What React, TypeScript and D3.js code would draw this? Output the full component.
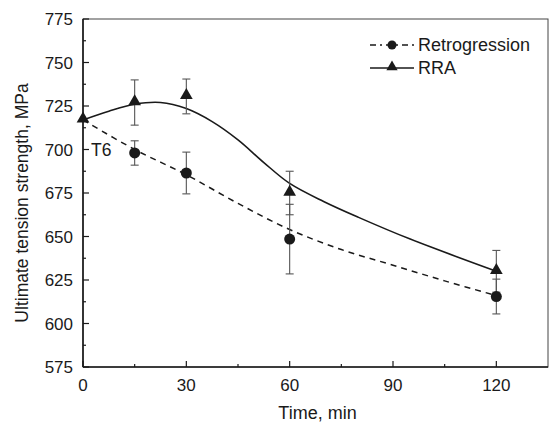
import React from 'react';
import * as d3 from 'd3';

// measured points (min, MPa)
const times = [0, 15, 30, 60, 120];
const retroValues = [717, 698, 686.5, 648.5, 615.5];
const retroErrors = [0, 7, 12, 20, 10];
const rraValues = [717, 727, 730.5, 675, 630];
const rraErrors = [0, 13, 10, 12.5, 12];

// fitted curves
const retroFitT = [0, 15, 30, 45, 60, 75, 90, 105, 120];
const retroFitV = [717, 700, 685.5, 669, 654, 642.5, 633.5, 624.5, 616];
const rraFitT = [0, 7.5, 15, 22.5, 30, 37.5, 45, 52.5, 60, 70, 80, 95, 120];
const rraFitV = [717, 722, 726, 727, 723.5, 716, 705.5, 692.5, 680.5, 670, 661, 648.5, 630];

const xTicks = [0, 30, 60, 90, 120];
const xMinor = [15, 45, 75, 105];
const yTicks = [575, 600, 625, 650, 675, 700, 725, 750, 775];
const yMinor = [587.5, 612.5, 637.5, 662.5, 687.5, 712.5, 737.5, 762.5];

const W = 554;
const H = 425;
const margin = { top: 19, right: 6, bottom: 58, left: 83 };
const font = 'Liberation Sans, Arial, sans-serif';
const ink = '#1a1a1a';

export default function App() {
  const x = d3.scaleLinear().domain([0, 135]).range([margin.left, W - margin.right]);
  const y = d3.scaleLinear().domain([575, 775]).range([H - margin.bottom, margin.top]);

  const line = d3.line<[number, number]>()
    .x(d => x(d[0]))
    .y(d => y(d[1]))
    .curve(d3.curveCatmullRom.alpha(0.5));

  const retroPath = line(retroFitT.map((t, i) => [t, retroFitV[i]]));
  const rraPath = line(rraFitT.map((t, i) => [t, rraFitV[i]]));

  const tri = d3.symbol().type(d3.symbolTriangle).size(70)();
  const x0 = margin.left, x1 = W - margin.right;
  const y0 = H - margin.bottom, y1 = margin.top;

  const errBar = (t: number, v: number, e: number, key: string) => {
    if (!e) return null;
    const cx = x(t);
    return (
      <g key={key} stroke="#555" strokeWidth={1.1}>
        <line x1={cx} x2={cx} y1={y(v + e)} y2={y(v - e)} />
        <line x1={cx - 4} x2={cx + 4} y1={y(v + e)} y2={y(v + e)} />
        <line x1={cx - 4} x2={cx + 4} y1={y(v - e)} y2={y(v - e)} />
      </g>
    );
  };

  return (
    <svg width={W} height={H} style={{ position: 'fixed', left: 0, top: 0, background: '#fff' }}
      fontFamily={font}>
      {/* frame */}
      <rect x={x0} y={y1} width={x1 - x0} height={y0 - y1} fill="none" stroke="#444" strokeWidth={1} />
      <line x1={x0} x2={x0} y1={y1} y2={y0} stroke={ink} strokeWidth={1.6} />
      <line x1={x0} x2={x1} y1={y0} y2={y0} stroke={ink} strokeWidth={1.6} />

      {/* ticks */}
      {xTicks.map(t => (
        <g key={'xt' + t}>
          <line x1={x(t)} x2={x(t)} y1={y0} y2={y0 - 6} stroke={ink} strokeWidth={1.2} />
          <text x={x(t)} y={y0 + 24} textAnchor="middle" fontSize={17} fill={ink}>{t}</text>
        </g>
      ))}
      {xMinor.map(t => (
        <line key={'xm' + t} x1={x(t)} x2={x(t)} y1={y0} y2={y0 - 3} stroke={ink} strokeWidth={1.2} />
      ))}
      {yTicks.map(v => (
        <g key={'yt' + v}>
          <line x1={x0} x2={x0 + 6} y1={y(v)} y2={y(v)} stroke={ink} strokeWidth={1.2} />
          <text x={x0 - 10} y={y(v) + 6} textAnchor="end" fontSize={17} fill={ink}>{v}</text>
        </g>
      ))}
      {yMinor.map(v => (
        <line key={'ym' + v} x1={x0} x2={x0 + 3} y1={y(v)} y2={y(v)} stroke={ink} strokeWidth={1.2} />
      ))}

      {/* axis titles */}
      <text x={(x0 + x1) / 2 + 2} y={H - 6} textAnchor="middle" fontSize={18} fill={ink}>Time, min</text>
      <text transform={`translate(28,${(y0 + y1) / 2 + 10}) rotate(-90)`} textAnchor="middle" fontSize={17.5} fill={ink}>
        Ultimate tension strength, MPa
      </text>

      {/* fitted lines */}
      <path d={retroPath ?? ''} fill="none" stroke={ink} strokeWidth={1.5} strokeDasharray="6,5" />
      <path d={rraPath ?? ''} fill="none" stroke={ink} strokeWidth={1.6} />

      {/* error bars */}
      {times.map((t, i) => errBar(t, retroValues[i], retroErrors[i], 'er' + i))}
      {times.map((t, i) => errBar(t, rraValues[i], rraErrors[i], 'ea' + i))}

      {/* markers */}
      {times.map((t, i) => t === 0 ? null : (
        <circle key={'c' + i} cx={x(t)} cy={y(retroValues[i])} r={5.5} fill={ink} />
      ))}
      {times.map((t, i) => (
        <path key={'t' + i} d={tri ?? ''} transform={`translate(${x(t)},${y(rraValues[i]) - 1})`} fill={ink} />
      ))}

      <text x={x0 + 8} y={y(700) + 6} fontSize={17.5} fill={ink}>T6</text>

      {/* legend */}
      <g>
        <line x1={370} x2={414} y1={45} y2={45} stroke={ink} strokeWidth={1.3} strokeDasharray="6,4,2,4" />
        <circle cx={392} cy={45} r={4.5} fill={ink} />
        <text x={418} y={51} fontSize={18} fill={ink}>Retrogression</text>
        <line x1={370} x2={414} y1={68} y2={68} stroke={ink} strokeWidth={1.3} />
        <path d={d3.symbol().type(d3.symbolTriangle).size(55)() ?? ''} transform="translate(392,67)" fill={ink} />
        <text x={418} y={74} fontSize={18} fill={ink}>RRA</text>
      </g>
    </svg>
  );
}
